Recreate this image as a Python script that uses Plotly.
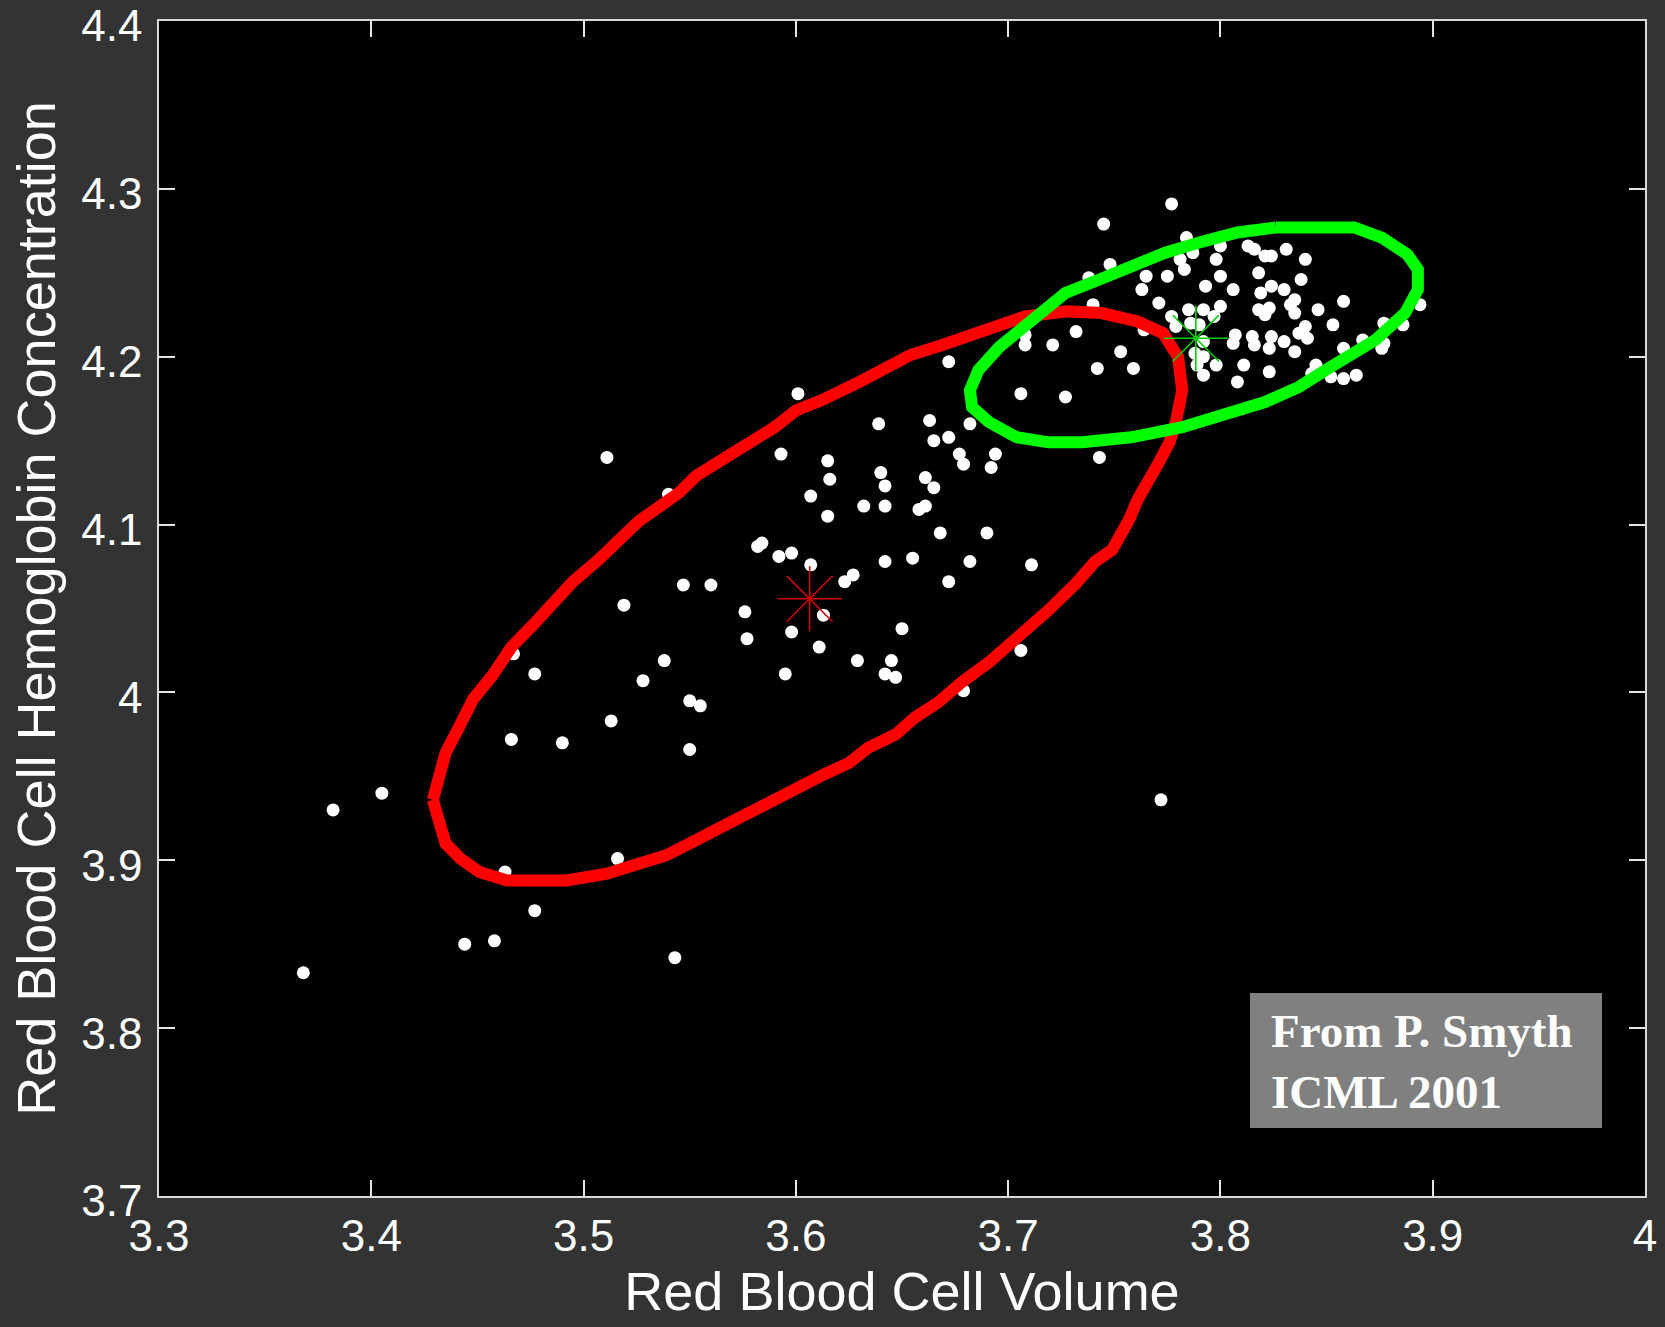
import plotly.graph_objects as go

# Red blood cell measurements (volume, hemoglobin concentration), log scale units
cell_volume = [
    3.368, 3.382, 3.405, 3.444, 3.458, 3.477, 3.543, 3.463, 3.516,
    3.511, 3.540, 3.547, 3.519, 3.467, 3.477, 3.538, 3.528, 3.550, 3.555, 3.513, 3.466, 3.490, 3.550,
    3.601, 3.639, 3.663, 3.682, 3.665, 3.672, 3.706, 3.593, 3.615, 3.616, 3.640, 3.642, 3.677, 3.679,
    3.694, 3.692, 3.661, 3.665, 3.607, 3.615, 3.632, 3.642, 3.661, 3.658, 3.668, 3.690, 3.711, 3.582,
    3.584, 3.592, 3.598, 3.607, 3.642, 3.655, 3.682, 3.672, 3.627, 3.623, 3.560, 3.576, 3.577, 3.613,
    3.598, 3.650, 3.611, 3.595, 3.629, 3.645, 3.642, 3.647, 3.706, 3.679,
    3.772,
    3.672, 3.727, 3.708, 3.708, 3.721, 3.732, 3.742, 3.759, 3.753, 3.743, 3.740, 3.771, 3.763, 3.764,
    3.777, 3.745, 3.784, 3.748, 3.738, 3.765, 3.781, 3.787, 3.783, 3.775, 3.800, 3.798, 3.800, 3.793,
    3.806, 3.777, 3.785, 3.792, 3.797, 3.800, 3.779, 3.786, 3.790, 3.792, 3.788, 3.792, 3.789, 3.798,
    3.792, 3.811, 3.808, 3.823, 3.806, 3.807, 3.815, 3.816, 3.824, 3.823, 3.830, 3.835, 3.837, 3.840,
    3.841, 3.818, 3.824, 3.819, 3.830, 3.818, 3.823, 3.821, 3.835, 3.833, 3.835, 3.813, 3.816, 3.821,
    3.824, 3.831, 3.840, 3.838, 3.846, 3.858, 3.853, 3.858, 3.845, 3.843, 3.852, 3.858, 3.864, 3.867,
    3.877, 3.877, 3.876, 3.886, 3.894,
]
hemoglobin = [
    3.833, 3.930, 3.940, 3.850, 3.852, 3.870, 3.842, 3.893, 3.901,
    4.140, 4.118, 4.064, 4.052, 4.023, 4.011, 4.019, 4.007, 3.995, 3.992, 3.983, 3.972, 3.970, 3.966,
    4.178, 4.160, 4.162, 4.160, 4.150, 4.152, 4.178, 4.142, 4.138, 4.127, 4.131, 4.123, 4.142, 4.136,
    4.142, 4.134, 4.128, 4.122, 4.117, 4.105, 4.111, 4.111, 4.111, 4.109, 4.095, 4.095, 4.076, 4.087,
    4.089, 4.081, 4.083, 4.076, 4.078, 4.080, 4.078, 4.066, 4.070, 4.066, 4.064, 4.048, 4.032, 4.046,
    4.036, 4.038, 4.027, 4.011, 4.019, 4.019, 4.011, 4.009, 4.025, 4.001,
    3.936,
    4.197, 4.176, 4.213, 4.207, 4.207, 4.215, 4.193, 4.193, 4.203, 4.140, 4.231, 4.232, 4.240, 4.216,
    4.291, 4.279, 4.271, 4.255, 4.247, 4.248, 4.258, 4.262, 4.252, 4.248, 4.266, 4.258, 4.248, 4.242,
    4.240, 4.224, 4.228, 4.228, 4.224, 4.230, 4.218, 4.220, 4.219, 4.209, 4.202, 4.200, 4.195, 4.195,
    4.189, 4.195, 4.185, 4.191, 4.208, 4.213, 4.212, 4.207, 4.212, 4.205, 4.209, 4.203, 4.214, 4.218,
    4.211, 4.250, 4.242, 4.238, 4.240, 4.228, 4.229, 4.225, 4.234, 4.231, 4.226, 4.266, 4.264, 4.260,
    4.260, 4.264, 4.258, 4.246, 4.228, 4.233, 4.219, 4.205, 4.195, 4.190, 4.188, 4.187, 4.189, 4.210,
    4.220, 4.208, 4.205, 4.219, 4.231,
]

# Outline of the first mixture component (red)
red_x = [
    3.429, 3.432, 3.435, 3.442, 3.448, 3.457, 3.466, 3.476, 3.495, 3.507, 3.526, 3.545, 3.553,
    3.567, 3.590, 3.600, 3.612, 3.630, 3.654, 3.669, 3.687, 3.708, 3.728, 3.744, 3.761, 3.773,
    3.780, 3.782, 3.779, 3.776, 3.771, 3.766, 3.761, 3.757, 3.749, 3.741, 3.732, 3.719, 3.706,
    3.691, 3.678, 3.667, 3.656, 3.647, 3.634, 3.625, 3.613, 3.600, 3.576, 3.553, 3.539, 3.521,
    3.511, 3.492, 3.464, 3.451, 3.442, 3.435, 3.432, 3.429,
]
red_y = [
    3.936, 3.952, 3.964, 3.981, 3.996, 4.010, 4.027, 4.040, 4.066, 4.079, 4.102, 4.119, 4.129,
    4.140, 4.158, 4.168, 4.174, 4.185, 4.201, 4.207, 4.215, 4.224, 4.227, 4.226, 4.221, 4.214,
    4.200, 4.180, 4.161, 4.149, 4.137, 4.127, 4.115, 4.103, 4.085, 4.078, 4.065, 4.049, 4.034,
    4.018, 4.006, 3.994, 3.985, 3.975, 3.967, 3.958, 3.951, 3.942, 3.927, 3.912, 3.903, 3.896,
    3.892, 3.888, 3.888, 3.893, 3.901, 3.910, 3.922, 3.936,
]

# Outline of the second mixture component (green)
green_x = [
    3.826, 3.863, 3.876, 3.888, 3.893, 3.893, 3.887, 3.873, 3.852, 3.837, 3.821, 3.805, 3.782,
    3.758, 3.735, 3.719, 3.704, 3.691, 3.683, 3.682, 3.686, 3.696, 3.711, 3.727, 3.743, 3.758,
    3.774, 3.790, 3.808, 3.826,
]
green_y = [
    4.277, 4.277, 4.271, 4.261, 4.252, 4.240, 4.226, 4.210, 4.194, 4.182, 4.173, 4.167, 4.158,
    4.152, 4.149, 4.149, 4.152, 4.161, 4.170, 4.180, 4.192, 4.206, 4.222, 4.238, 4.246, 4.254,
    4.262, 4.268, 4.274, 4.277,
]

# Component means
red_mean = (3.6065, 4.0558)
green_mean = (3.7884, 4.2110)

x_ticks = [3.3, 3.4, 3.5, 3.6, 3.7, 3.8, 3.9, 4.0]
x_tick_text = ["3.3", "3.4", "3.5", "3.6", "3.7", "3.8", "3.9", "4"]
y_ticks = [3.7, 3.8, 3.9, 4.0, 4.1, 4.2, 4.3, 4.4]
y_tick_text = ["3.7", "3.8", "3.9", "4", "4.1", "4.2", "4.3", "4.4"]

fig = go.Figure()

fig.add_trace(go.Scatter(
    x=cell_volume, y=hemoglobin, mode="markers",
    marker=dict(color="white", size=13, line=dict(width=0)),
    hoverinfo="skip",
))
fig.add_trace(go.Scatter(
    x=red_x, y=red_y, mode="lines",
    line=dict(color="#ff0000", width=12),
    hoverinfo="skip",
))
fig.add_trace(go.Scatter(
    x=green_x, y=green_y, mode="lines",
    line=dict(color="#00ff00", width=12),
    hoverinfo="skip",
))
fig.add_trace(go.Scatter(
    x=[red_mean[0]], y=[red_mean[1]], mode="markers",
    marker=dict(symbol="asterisk-open", size=54, color="#d00000",
                line=dict(color="#d00000", width=1.6)),
    hoverinfo="skip",
))
fig.add_trace(go.Scatter(
    x=[green_mean[0]], y=[green_mean[1]], mode="markers",
    marker=dict(symbol="asterisk-open", size=54, color="#00d000",
                line=dict(color="#00d000", width=1.6)),
    hoverinfo="skip",
))

axis_common = dict(
    showgrid=False, zeroline=False,
    showline=True, linecolor="#d9d9d9", linewidth=1.5, mirror="ticks",
    ticks="inside", ticklen=16, tickwidth=1.5, tickcolor="#e6e6e6",
    ticklabeloverflow="allow",
    tickfont=dict(family="Liberation Sans, Arial, sans-serif", size=44, color="white"),
)

fig.update_xaxes(
    range=[3.3, 4.0], tickvals=x_ticks, ticktext=x_tick_text,
    title=dict(text="Red Blood Cell Volume", standoff=14,
               font=dict(family="Liberation Sans, Arial, sans-serif", size=54, color="white")),
    **axis_common,
)
fig.update_yaxes(
    range=[3.7, 4.4], tickvals=y_ticks, ticktext=y_tick_text,
    title=dict(text="Red Blood Cell Hemoglobin Concentration", standoff=8,
               font=dict(family="Liberation Sans, Arial, sans-serif", size=54, color="white")),
    ticklabelstandoff=6, ticklabelshift=5,
    **axis_common,
)

# Source credit box
fig.add_shape(
    type="rect", xref="paper", yref="paper",
    x0=0.7342, x1=0.9711, y0=0.0579, y1=0.1728,
    fillcolor="#808080", line=dict(width=0), layer="above",
)
fig.add_annotation(
    xref="paper", yref="paper", x=0.747, y=0.1145,
    xanchor="left", yanchor="middle", align="left", showarrow=False,
    text="<b>From P. Smyth</b><br><b>ICML 2001</b>",
    font=dict(family="Liberation Serif, Times New Roman, serif", size=47, color="white"),
)

fig.update_layout(
    width=1665, height=1327,
    margin=dict(l=159, r=20, t=21, b=131, autoexpand=False),
    paper_bgcolor="#333333", plot_bgcolor="black",
    showlegend=False,
)

fig.write_html("out.html")
